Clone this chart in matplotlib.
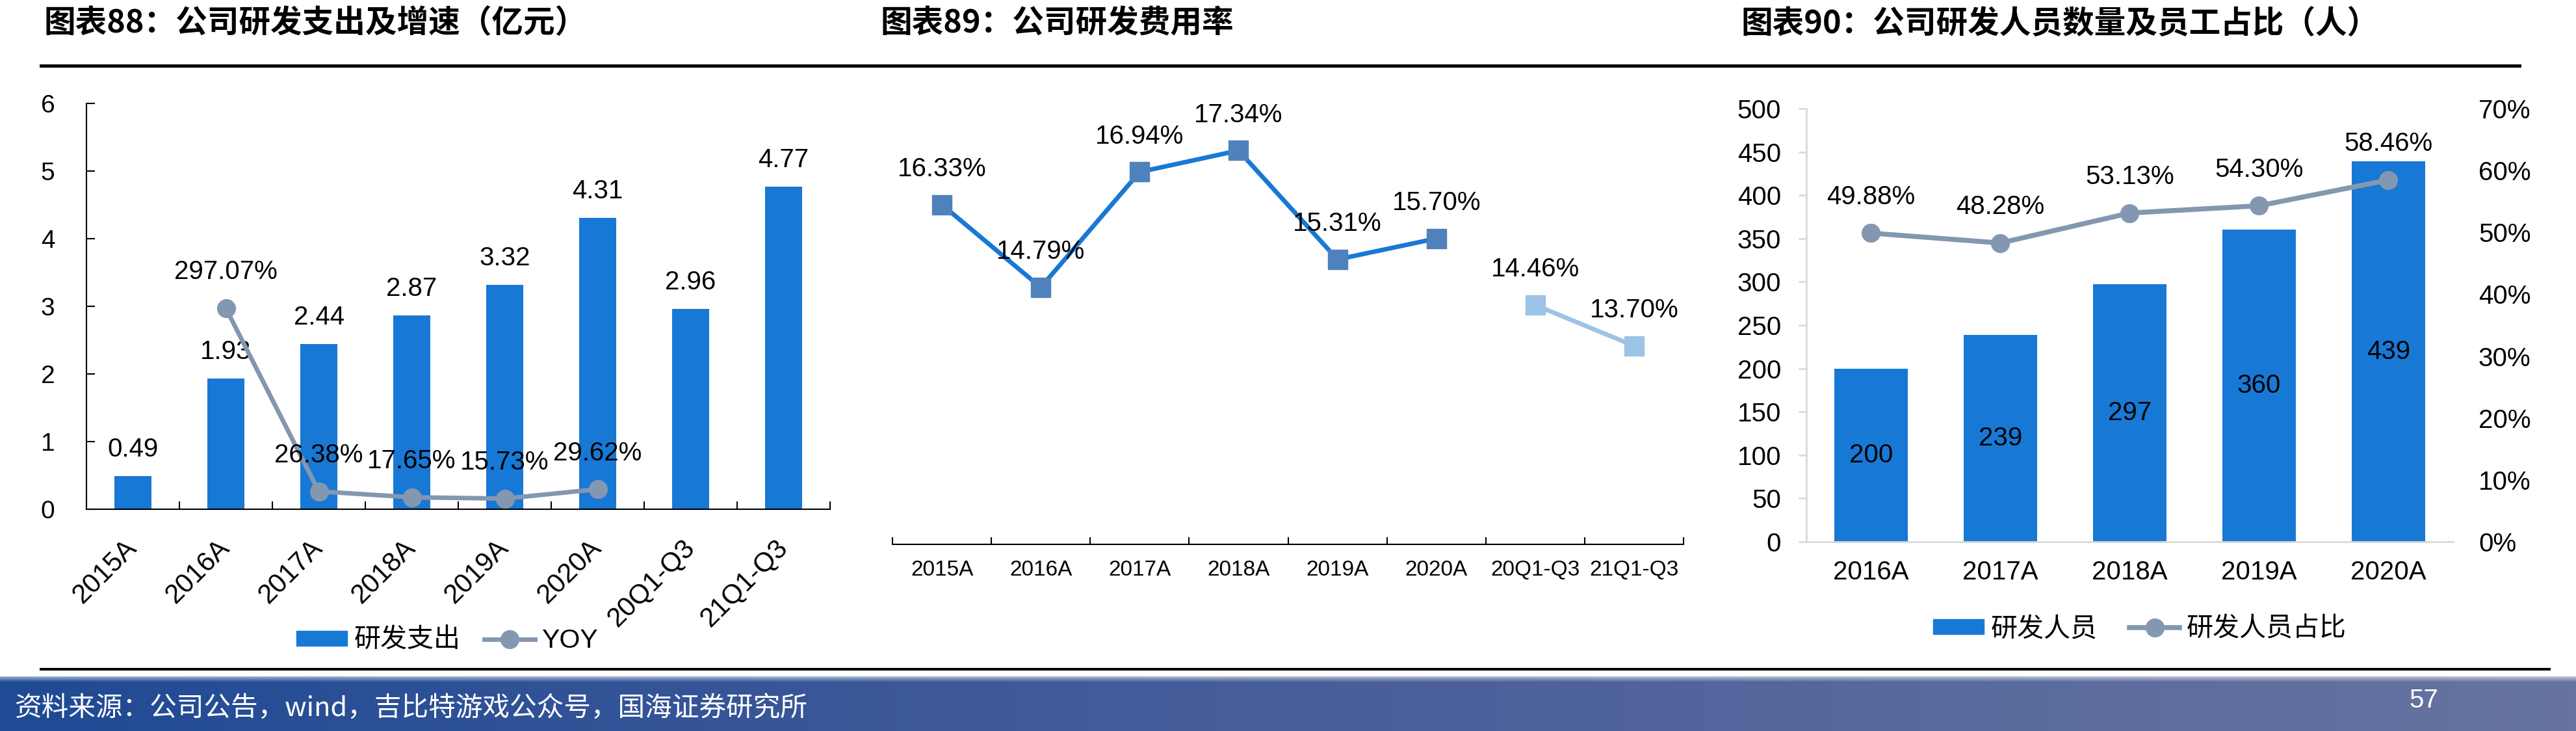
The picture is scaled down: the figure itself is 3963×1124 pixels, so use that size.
import numpy as np
import matplotlib
matplotlib.use("Agg")
import matplotlib.pyplot as plt  # noqa: E402
from matplotlib.lines import Line2D  # noqa: E402
from matplotlib.ticker import FuncFormatter  # noqa: E402

plt.rcParams["font.family"] = ["Liberation Sans", "Noto Sans CJK SC"]
plt.rcParams["axes.unicode_minus"] = False

W, H, DPI = 3963, 1124, 100

BLUE = "#1878D6"
GREYBLUE = "#8497B0"
MARK = "#4F81BD"
LIGHT = "#9DC3E6"
AXGREY = "#D9D9D9"

# 图表88: R&D spend (亿元) and YOY (%)
RD_CATS = ["2015A", "2016A", "2017A", "2018A", "2019A", "2020A", "20Q1-Q3", "21Q1-Q3"]
RD_SPEND = [0.49, 1.93, 2.44, 2.87, 3.32, 4.31, 2.96, 4.77]
YOY_CATS = ["2016A", "2017A", "2018A", "2019A", "2020A"]
YOY = [297.07, 26.38, 17.65, 15.73, 29.62]

# 图表89: R&D expense ratio (%)
RATE_ANNUAL_CATS = ["2015A", "2016A", "2017A", "2018A", "2019A", "2020A"]
RATE_ANNUAL = [16.33, 14.79, 16.94, 17.34, 15.31, 15.70]
RATE_Q_CATS = ["20Q1-Q3", "21Q1-Q3"]
RATE_Q = [14.46, 13.70]

# 图表90: R&D staff and share of employees (%)
STAFF_CATS = ["2016A", "2017A", "2018A", "2019A", "2020A"]
STAFF = [200, 239, 297, 360, 439]
STAFF_SHARE = [49.88, 48.28, 53.13, 54.30, 58.46]

fig = plt.figure(figsize=(W / DPI, H / DPI), dpi=DPI)


def axes_px(x0, y0, x1, y1):
    return fig.add_axes([x0 / W, 1 - y1 / H, (x1 - x0) / W, (y1 - y0) / H])


def frame(ax, ncat):
    ax.set_xlim(-0.5, ncat - 0.5)
    ax.set_xticks(range(ncat))
    ax.set_xticks(np.arange(ncat + 1) - 0.5, minor=True)
    for s in ("top", "right"):
        ax.spines[s].set_visible(False)


# ---------------- chart 88 ----------------
ax1 = axes_px(133, 159, 1277, 783)
frame(ax1, len(RD_CATS))
x1 = np.arange(len(RD_CATS))
ax1.bar(x1, RD_SPEND, width=0.4, color=BLUE, zorder=2)
for i, v in zip(x1, RD_SPEND):
    ax1.annotate(f"{v:.2f}", (i, v), xytext=(0, 29.5), textcoords="offset points",
                 ha="center", va="center", fontsize=29)
xy = [RD_CATS.index(c) for c in YOY_CATS]
yy = [v / 100 for v in YOY]
ax1.plot(xy, yy, color=GREYBLUE, lw=5, marker="o", ms=20, zorder=3)
for i, v, lab in zip(xy, yy, YOY):
    ax1.annotate(f"{lab:.2f}%", (i, v), xytext=(0, 40), textcoords="offset points",
                 ha="center", va="center", fontsize=29, zorder=4)
ax1.set_ylim(0, 6)
ax1.set_yticks(range(7))
ax1.spines["left"].set_linewidth(1.5)
ax1.spines["bottom"].set_linewidth(1.5)
ax1.tick_params(axis="y", direction="in", length=9, width=1.5, pad=35, labelsize=28)
ax1.tick_params(axis="x", which="major", length=0, pad=38)
ax1.tick_params(axis="x", which="minor", direction="in", length=9, width=1.5)
ax1.set_xticklabels(RD_CATS, rotation=45, ha="right", va="center",
                    rotation_mode="anchor", fontsize=30)
bar_h = plt.Rectangle((0, 0), 1, 1, color=BLUE)
line_h = Line2D([], [], color=GREYBLUE, lw=5, marker="o", ms=20)
fig.legend([bar_h, line_h], ["研发支出", "YOY"], loc="center",
           bbox_to_anchor=(688 / W, 1 - 985 / H), ncol=2, frameon=False,
           fontsize=29.5, handlelength=1.9, handleheight=0.5, handletextpad=0.25,
           columnspacing=0.9)

# ---------------- chart 89 ----------------
ax2 = axes_px(1373, 177, 2590, 837)
frame(ax2, len(RD_CATS))
ax2.spines["left"].set_visible(False)
ax2.spines["bottom"].set_linewidth(1.5)
xa = [RD_CATS.index(c) for c in RATE_ANNUAL_CATS]
xq = [RD_CATS.index(c) for c in RATE_Q_CATS]
ax2.plot(xa, RATE_ANNUAL, color=BLUE, lw=5, marker="s", ms=21, mfc=MARK, mec=MARK)
ax2.plot(xq, RATE_Q, color=LIGHT, lw=5, marker="s", ms=21, mfc=LIGHT, mec=LIGHT)
for xs, vs in ((xa, RATE_ANNUAL), (xq, RATE_Q)):
    for i, v in zip(xs, vs):
        ax2.annotate(f"{v:.2f}%", (i, v), xytext=(0, 39.5), textcoords="offset points",
                     ha="center", va="center", fontsize=29)
ax2.set_ylim(10, 18)
ax2.set_yticks([])
ax2.tick_params(axis="x", which="major", length=0, pad=17, labelsize=24)
ax2.tick_params(axis="x", which="minor", direction="in", length=8, width=1.5)
ax2.set_xticklabels(RD_CATS)

# ---------------- chart 90 ----------------
ax3 = axes_px(2779, 167, 3774, 833)
frame(ax3, len(STAFF_CATS))
ax3.set_xticks([], minor=True)
x3 = np.arange(len(STAFF_CATS))
bars = ax3.bar(x3, STAFF, width=0.57, color=BLUE)
for i, v in zip(x3, STAFF):
    ax3.text(i, v / 2, str(v), ha="center", va="center", fontsize=29)
ax3.set_ylim(0, 500)
ax3.set_yticks(range(0, 501, 50))
for s in ("left", "bottom"):
    ax3.spines[s].set_color(AXGREY)
    ax3.spines[s].set_linewidth(2)
ax3.tick_params(axis="y", direction="out", length=9, width=2, color=AXGREY,
                pad=19, labelsize=29)
ax3.tick_params(axis="x", length=0, pad=20, labelsize=29)
ax3.set_xticklabels(STAFF_CATS)

ax3r = ax3.twinx()
share = [v / 100 for v in STAFF_SHARE]
ax3r.plot(x3, share, color=GREYBLUE, lw=5.5, marker="o", ms=20)
for i, v, lab in zip(x3, share, STAFF_SHARE):
    ax3r.annotate(f"{lab:.2f}%", (i, v), xytext=(0, 40), textcoords="offset points",
                  ha="center", va="center", fontsize=29)
ax3r.set_ylim(0, 0.7)
ax3r.set_yticks(np.arange(0, 0.71, 0.1))
ax3r.yaxis.set_major_formatter(FuncFormatter(lambda v, _: f"{v * 100:.0f}%"))
for s in ax3r.spines.values():
    s.set_visible(False)
ax3r.tick_params(axis="y", length=0, pad=28, labelsize=29)
line3 = Line2D([], [], color=GREYBLUE, lw=5.5, marker="o", ms=20)
fig.legend([bar_h, line3], ["研发人员", "研发人员占比"], loc="center",
           bbox_to_anchor=(3292 / W, 1 - 967 / H), ncol=2, frameon=False,
           fontsize=29.5, handlelength=1.9, handleheight=0.5, handletextpad=0.25,
           columnspacing=1.2)

# ---------------- titles, rules, footer ----------------
TITLE_KW = dict(fontsize=35, fontweight="bold", va="center", ha="left",
                family=["Noto Sans CJK SC", "DejaVu Sans"])
fig.text(67 / W, 1 - 36 / H, "图表88：公司研发支出及增速（亿元）", **TITLE_KW)
fig.text(1354 / W, 1 - 36 / H, "图表89：公司研发费用率", **TITLE_KW)
fig.text(2678 / W, 1 - 36 / H, "图表90：公司研发人员数量及员工占比（人）", **TITLE_KW)

fig.add_artist(Line2D([63 / W, 3876 / W], [1 - 101 / H] * 2, color="black", lw=3.6))
fig.add_artist(Line2D([63 / W, 3922 / W], [1 - 1029 / H] * 2, color="black", lw=2.9))

band = fig.add_axes([0, 0, 1, 84 / H])
band.set_axis_off()
cols = np.linspace(0, 1, 400)
stops = np.array([[31, 74, 148], [70, 93, 154], [103, 116, 160]]) / 255
grad = np.stack([np.interp(cols, [0, 0.47, 1], stops[:, k]) for k in range(3)], axis=-1)
rows = np.linspace(0, 1, 84)
fade = np.clip(1 - rows / 0.1, 0, 1)[:, None, None] * 0.55
img = grad[None, :, :] * (1 - fade) + fade
band.imshow(img, aspect="auto", extent=(0, 1, 0, 1), origin="upper")
band.set_xlim(0, 1)
band.set_ylim(0, 1)

fig.text(23 / W, 1 - 1089 / H, "资料来源：公司公告，wind，吉比特游戏公众号，国海证券研究所",
         color="white", fontsize=30, va="center", ha="left",
         family=["Noto Sans CJK SC", "DejaVu Sans"])
fig.text(3729 / W, 1 - 1077 / H, "57", color="white", fontsize=29, va="center", ha="center")

fig.savefig("out.png", dpi=DPI)
